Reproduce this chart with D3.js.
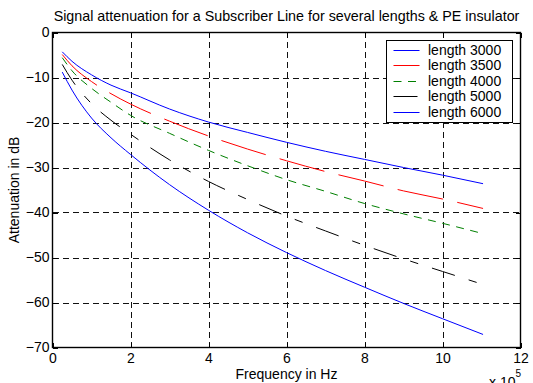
<!DOCTYPE html>
<html>
<head>
<meta charset="utf-8">
<script src="https://cdn.jsdelivr.net/npm/d3@7/dist/d3.min.js"></script>
<style>
  html, body { margin: 0; padding: 0; background: #fff; }
  svg { display: block; }
  text { font-family: "Liberation Sans", Arial, sans-serif; fill: #000; }
</style>
</head>
<body>
<svg id="chart" width="533" height="383"></svg>
<script>
// Frequency samples, in units of 1e5 Hz
const freq = [0.25, 0.5, 1, 1.5, 2, 3, 4, 5, 6, 7, 8, 9, 10, 11.04];

// Attenuation (dB) for each line length
const len3000 = [-4.3, -6.4, -9.4, -11.7, -13.4, -17.0, -19.9, -22.2, -24.4, -26.4, -28.2, -30.0, -31.7, -33.6];
const len3500 = [-4.9, -7.4, -10.9, -13.6, -15.9, -19.7, -23.0, -25.9, -28.5, -30.9, -33.0, -35.2, -37.0, -39.1];
const len4000 = [-5.6, -8.5, -12.4, -15.5, -18.4, -22.4, -26.2, -29.6, -32.7, -35.3, -38.0, -40.3, -42.4, -44.7];
const len5000 = [-7.1, -10.6, -15.8, -19.5, -22.6, -28.3, -33.1, -37.1, -40.8, -44.1, -47.3, -50.3, -53.1, -56.0];
const len6000 = [-8.8, -12.8, -19.0, -23.4, -27.1, -33.8, -39.5, -44.5, -48.9, -52.9, -56.6, -60.2, -63.6, -67.1];

const seriesNames = ["length 3000", "length 3500", "length 4000", "length 5000", "length 6000"];
const seriesValues = [len3000, len3500, len4000, len5000, len6000];
const seriesColors = ["#0000ff", "#ff0000", "#008000", "#000000", "#0000ff"];
const seriesDash = [null, "46.5,14.5", "8,6.5", "24,14.5,8.4,14.5", null];

const xTicks = [0, 2, 4, 6, 8, 10, 12];
const yTicks = [0, -10, -20, -30, -40, -50, -60, -70];

const titleText = "Signal attenuation for a Subscriber Line for several lengths & PE insulator";
const xLabel = "Frequency in Hz";
const yLabel = "Attenuation in dB";

const fontSize = 14;
const svg = d3.select("#chart");
const plot = { left: 52.5, right: 520.5, top: 32.5, bottom: 347.5 };

const x = d3.scaleLinear().domain([0, 12]).range([plot.left, plot.right]);
const y = d3.scaleLinear().domain([-70, 0]).range([plot.bottom, plot.top]);

// white axes background
svg.append("rect")
  .attr("x", plot.left).attr("y", plot.top)
  .attr("width", plot.right - plot.left).attr("height", plot.bottom - plot.top)
  .attr("fill", "#fff");

// dashed grid
const grid = svg.append("g").attr("stroke", "#111").attr("stroke-width", 1)
  .attr("stroke-dasharray", "6,4").attr("shape-rendering", "crispEdges");
grid.selectAll("line.gx").data(xTicks.slice(1, -1)).join("line")
  .attr("x1", d => Math.round(x(d)) + 0.5).attr("x2", d => Math.round(x(d)) + 0.5)
  .attr("y1", plot.bottom).attr("y2", plot.top);
grid.selectAll("line.gy").data(yTicks.slice(1, -1)).join("line")
  .attr("y1", d => Math.round(y(d)) + 0.5).attr("y2", d => Math.round(y(d)) + 0.5)
  .attr("x1", plot.left).attr("x2", plot.right);

// curves
const line = d3.line()
  .x((d, i) => x(freq[i]))
  .y(d => y(d))
  .curve(d3.curveMonotoneX);

svg.append("g").selectAll("path").data(seriesValues).join("path")
  .attr("d", d => line(d))
  .attr("fill", "none")
  .attr("stroke", (d, i) => seriesColors[i])
  .attr("stroke-width", 1)
  .attr("stroke-dasharray", (d, i) => seriesDash[i]);

// axes with inward ticks on all four sides
const tickLen = 5;
const axB = svg.append("g").attr("transform", `translate(0,${plot.bottom})`)
  .call(d3.axisBottom(x).tickValues(xTicks).tickSize(-tickLen).tickPadding(5.5).tickFormat(d3.format("d")));
const axT = svg.append("g").attr("transform", `translate(0,${plot.top})`)
  .call(d3.axisTop(x).tickValues(xTicks).tickSize(-tickLen).tickFormat(""));
const axL = svg.append("g").attr("transform", `translate(${plot.left},0)`)
  .call(d3.axisLeft(y).tickValues(yTicks).tickSize(-tickLen).tickPadding(3).tickFormat(d3.format("d")));
const axR = svg.append("g").attr("transform", `translate(${plot.right},0)`)
  .call(d3.axisRight(y).tickValues(yTicks).tickSize(-tickLen).tickFormat(""));

[axB, axT, axL, axR].forEach(a => {
  a.select(".domain").remove();
  a.selectAll("line").attr("stroke", "#000").attr("shape-rendering", "crispEdges");
  a.selectAll("text").attr("font-family", "Liberation Sans, Arial, sans-serif")
    .attr("font-size", fontSize).attr("fill", "#000");
});
axB.selectAll("text").attr("dy", "0.71em");

// box
svg.append("rect")
  .attr("x", plot.left).attr("y", plot.top)
  .attr("width", plot.right - plot.left).attr("height", plot.bottom - plot.top)
  .attr("fill", "none").attr("stroke", "#000").attr("stroke-width", 1.4);

// title and labels
svg.append("text").attr("x", (plot.left + plot.right) / 2).attr("y", 21)
  .attr("text-anchor", "middle").attr("font-size", 14.3).text(titleText);
svg.append("text").attr("x", (plot.left + plot.right) / 2).attr("y", 378.5)
  .attr("text-anchor", "middle").attr("font-size", fontSize).text(xLabel);
svg.append("text")
  .attr("transform", `translate(19,${(plot.top + plot.bottom) / 2}) rotate(-90)`)
  .attr("text-anchor", "middle").attr("font-size", fontSize).text(yLabel);

// exponent for x axis
const expo = svg.append("text").attr("x", 489).attr("y", 386.5).attr("font-size", fontSize);
expo.append("tspan").text("x 10");
expo.append("tspan").attr("dy", -10).attr("font-size", 10).text("5");

// legend
const leg = { x: 386.5, y: 40.5, w: 126, h: 82, row: 15.6 };
const lg = svg.append("g");
lg.append("rect").attr("x", leg.x).attr("y", leg.y).attr("width", leg.w).attr("height", leg.h)
  .attr("fill", "#fff").attr("stroke", "#000").attr("stroke-width", 1)
  .attr("shape-rendering", "crispEdges");
const rows = lg.selectAll("g.row").data(seriesNames).join("g")
  .attr("transform", (d, i) => `translate(${leg.x},${Math.round(leg.y + 9 + i * leg.row) + 0.5})`);
rows.append("line").attr("x1", 7).attr("x2", 33).attr("y1", 0).attr("y2", 0)
  .attr("stroke", (d, i) => seriesColors[i]).attr("stroke-width", 1)
  .attr("stroke-dasharray", (d, i) => seriesDash[i]);
rows.append("text").attr("x", 41.5).attr("y", 0).attr("dy", "0.35em")
  .attr("font-size", fontSize).text(d => d);
</script>
</body>
</html>
